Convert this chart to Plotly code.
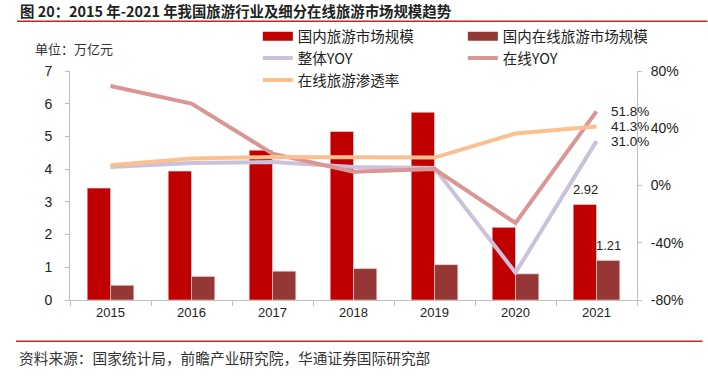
import plotly.graph_objects as go

years = ["2015", "2016", "2017", "2018", "2019", "2020", "2021"]
domestic_market = [3.42, 3.94, 4.58, 5.15, 5.74, 2.22, 2.92]      # 国内旅游市场规模 (万亿元)
online_market = [0.45, 0.72, 0.88, 0.96, 1.08, 0.80, 1.21]       # 国内在线旅游市场规模 (万亿元)
overall_yoy = [12.9, 15.7, 16.4, 12.9, 12.2, -60.9, 31.0]        # 整体YOY (%)
online_yoy = [69.5, 57.2, 22.3, 9.6, 11.5, -26.2, 51.8]          # 在线YOY (%)
penetration = [14.1, 18.8, 19.9, 19.5, 19.5, 36.3, 41.3]         # 在线旅游渗透率 (%)

left_ticks = [0, 1, 2, 3, 4, 5, 6, 7]
right_ticks = [-80, -40, 0, 40, 80]
right_tick_text = ["-80%", "-40%", "0%", "40%", "80%"]

C_DOM = "#C00000"
C_ONL = "#953735"
C_OYOY = "#CCC1DA"
C_NYOY = "#D99694"
C_PEN = "#FAC090"

CJK = "Noto Sans CJK SC"
NUM = "Liberation Sans"

W, H = 708, 379
plot_l, plot_r, plot_t, plot_b = 70, 637.5, 70.7, 299.7
ml = plot_l
mt = plot_t
mr = W - plot_r
mb = H - plot_b
pw, ph = W - ml - mr, H - mt - mb


def px(xp):
    return (xp - ml) / pw


def py(yp):
    return (H - mb - yp) / ph


last = len(years) - 1

fig = go.Figure()

fig.add_trace(go.Bar(x=years, y=domestic_market, name="国内旅游市场规模",
                     marker=dict(color=C_DOM, line=dict(color="#F2DCDB", width=0.6)),
                     showlegend=False, yaxis="y"))
fig.add_trace(go.Bar(x=years, y=online_market, name="国内在线旅游市场规模",
                     marker=dict(color=C_ONL, line=dict(color="#F2DCDB", width=0.6)),
                     showlegend=False, yaxis="y"))

fig.add_trace(go.Scatter(x=years, y=overall_yoy, name="整体YOY", mode="lines",
                         line=dict(color=C_OYOY, width=4), yaxis="y2", legendrank=3))
fig.add_trace(go.Scatter(x=years, y=online_yoy, name="在线YOY", mode="lines",
                         line=dict(color=C_NYOY, width=4), yaxis="y2", legendrank=4))
fig.add_trace(go.Scatter(x=years, y=penetration, name="在线旅游渗透率", mode="lines",
                         line=dict(color=C_PEN, width=4), yaxis="y2", legendrank=5))

# legend-only entries for the bar series (wide rectangular swatches, nothing drawn)
fig.add_trace(go.Scatter(x=[years[0]], y=[None], name="国内旅游市场规模", mode="lines",
                         line=dict(color=C_DOM, width=9), yaxis="y", legendrank=1,
                         hoverinfo="skip"))
fig.add_trace(go.Scatter(x=[years[0]], y=[None], name="国内在线旅游市场规模", mode="lines",
                         line=dict(color=C_ONL, width=9), yaxis="y", legendrank=2,
                         hoverinfo="skip"))

annotations = []
annotations.append(dict(x=last, y=domestic_market[-1], xref="x", yref="y",
                        text=f"{domestic_market[-1]:.2f}", showarrow=False,
                        xshift=-11.5, yshift=15, font=dict(family=NUM, size=13, color="#222")))
annotations.append(dict(x=last, y=online_market[-1], xref="x", yref="y",
                        text=f"{online_market[-1]:.2f}", showarrow=False,
                        xshift=11.5, yshift=15, font=dict(family=NUM, size=13, color="#222")))
for series in (online_yoy, penetration, overall_yoy):
    annotations.append(dict(x=last, y=series[-1], xref="x", yref="y2",
                            text=f"{series[-1]:.1f}%", showarrow=False, xanchor="left",
                            xshift=12, font=dict(family=NUM, size=13.5, color="#222")))

annotations.append(dict(x=px(18), y=py(10), xref="paper", yref="paper", xanchor="left", yanchor="middle",
                        text="<b>图 20：2015 年-2021 年我国旅游行业及细分在线旅游市场规模趋势</b>",
                        showarrow=False, font=dict(family=CJK, size=14.4, color="#222")))
annotations.append(dict(x=px(33), y=py(48), xref="paper", yref="paper", xanchor="left", yanchor="middle",
                        text="单位：万亿元", showarrow=False, font=dict(family=CJK, size=13, color="#333")))
annotations.append(dict(x=px(17), y=py(357), xref="paper", yref="paper", xanchor="left", yanchor="middle",
                        text="资料来源：国家统计局，前瞻产业研究院，华通证券国际研究部",
                        showarrow=False, font=dict(family=CJK, size=14.7, color="#333")))

shapes = [
    dict(type="line", xref="paper", yref="paper", x0=px(17), x1=px(708), y0=py(21), y1=py(21),
         line=dict(color="#D02020", width=1.5)),
    dict(type="line", xref="paper", yref="paper", x0=px(16), x1=px(703), y0=py(341), y1=py(341),
         line=dict(color="#D02020", width=1.5)),
]

axis_col = "#BFBFBF"
fig.update_layout(
    width=W, height=H,
    margin=dict(l=ml, r=mr, t=mt, b=mb, autoexpand=False),
    paper_bgcolor="white", plot_bgcolor="white",
    barmode="group", bargap=0.425, bargroupgap=0,
    xaxis=dict(type="category", categoryorder="array", categoryarray=years,
               range=[-0.5, last + 0.5], autorange=False,
               showline=True, linecolor=axis_col, linewidth=1,
               ticks="outside", tickson="boundaries", ticklen=5, tickcolor=axis_col,
               tickfont=dict(family=NUM, size=13, color="#222"), showgrid=False, zeroline=False),
    yaxis=dict(range=[0, 7], tickvals=left_ticks, showline=True, linecolor=axis_col, linewidth=1,
               ticks="outside", ticklen=4, tickcolor=axis_col, showgrid=False, zeroline=False,
               ticklabelstandoff=10,
               tickfont=dict(family=NUM, size=14, color="#222")),
    yaxis2=dict(range=[-80, 80], tickvals=right_ticks, ticktext=right_tick_text, overlaying="y",
                side="right", showline=True, linecolor=axis_col, linewidth=1, ticks="outside",
                ticklen=4, tickcolor=axis_col, showgrid=False, zeroline=False,
                ticklabelstandoff=6,
                tickfont=dict(family=NUM, size=14, color="#222")),
    legend=dict(orientation="h", x=px(258), xanchor="left", y=py(20), yanchor="top",
                entrywidth=160, entrywidthmode="pixels", traceorder="normal",
                font=dict(family=CJK, size=14.5, color="#222"), bgcolor="rgba(0,0,0,0)",
                itemclick=False),
    annotations=annotations,
    shapes=shapes,
)

# remove the browser's default 8px body margin so the figure starts at the window corner
fig.write_html("out.html", config={"displayModeBar": False},
               post_script="document.body.style.margin='0px';")
